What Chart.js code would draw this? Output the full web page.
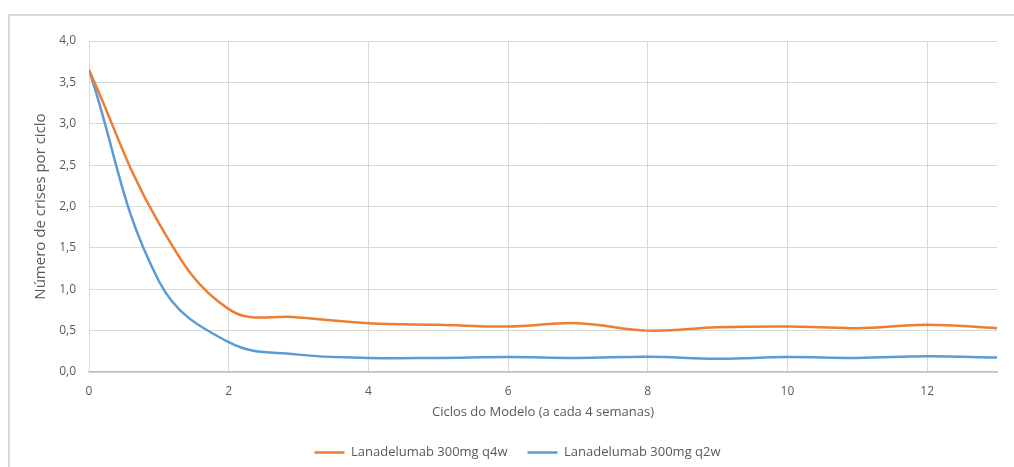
<!DOCTYPE html>
<html>
<head>
<meta charset="utf-8">
<script src="https://cdn.jsdelivr.net/npm/chart.js@4.4.1/dist/chart.umd.min.js"></script>
<style>
body { margin: 0; background: #fff; }
#frame { position: absolute; left: 8px; top: 14px; width: 1100px; height: 500px; border: 2px solid #d9d9d9; }
#wrap { position: absolute; left: 0; top: 0; width: 1014px; height: 467px; }
</style>
</head>
<body>
<div id="frame"></div>
<div id="wrap"><canvas id="chart"></canvas></div>
<script>
// ciclos do modelo (a cada 4 semanas)
var cycles = [0, 1, 2, 3, 4, 5, 6, 7, 8, 9, 10, 11, 12, 13];
// numero de crises por ciclo
var q4w = [3.65, 1.80, 0.76, 0.66, 0.59, 0.57, 0.55, 0.59, 0.50, 0.54, 0.55, 0.53, 0.57, 0.53];
var q2w = [3.65, 1.10, 0.36, 0.21, 0.17, 0.17, 0.18, 0.17, 0.185, 0.16, 0.18, 0.17, 0.19, 0.175];
var seriesNames = ["Lanadelumab 300mg q4w", "Lanadelumab 300mg q2w"];

var FONT = "'Open Sans', sans-serif";
var GREY = '#595959';

function pts(vals) {
    return cycles.map(function (c, i) { return { x: c, y: vals[i] }; });
}

var ctx = document.getElementById('chart').getContext('2d');
var chart = new Chart(ctx, {
    type: 'line',
    data: {
        datasets: [{
            label: seriesNames[0],
            data: pts(q4w),
            borderColor: '#ED7D31',
            backgroundColor: '#ED7D31',
            borderWidth: 2.5,
            pointRadius: 0,
            tension: 0.4
        }, {
            label: seriesNames[1],
            data: pts(q2w),
            borderColor: '#5B9BD5',
            backgroundColor: '#5B9BD5',
            borderWidth: 2.5,
            pointRadius: 0,
            tension: 0.4
        }]
    },
    options: {
        responsive: true,
        maintainAspectRatio: false,
        animation: false,
        layout: { padding: { top: 41, right: 17, bottom: -2, left: 38 } },
        plugins: {
            tooltip: { enabled: false },
            legend: {
                position: 'bottom',
                labels: {
                    usePointStyle: true,
                    pointStyle: 'line',
                    pointStyleWidth: 30,
                    padding: 20,
                    color: GREY,
                    font: { family: FONT, size: 13 }
                }
            }
        },
        scales: {
            x: {
                type: 'linear',
                min: 0,
                max: 13,
                ticks: {
                    stepSize: 2,
                    includeBounds: false,
                    padding: 12,
                    color: GREY,
                    font: { family: FONT, size: 12 }
                },
                grid: { color: '#d9d9d9', drawTicks: false },
                border: { color: '#bfbfbf', width: 1.5 },
                title: {
                    display: true,
                    text: 'Ciclos do Modelo (a cada 4 semanas)',
                    color: GREY,
                    font: { family: FONT, size: 13 },
                    padding: { top: 0, bottom: 6 }
                },
                afterFit: function (scale) { scale.height = 54; }
            },
            y: {
                min: 0,
                max: 4,
                ticks: {
                    stepSize: 0.5,
                    padding: 13,
                    color: GREY,
                    font: { family: FONT, size: 12 },
                    callback: function (v) { return v.toFixed(1).replace('.', ','); }
                },
                grid: { color: '#d9d9d9', drawTicks: false },
                border: { color: '#d9d9d9' },
                title: {
                    display: true,
                    text: 'Número de crises por ciclo',
                    color: GREY,
                    font: { family: FONT, size: 15 },
                    padding: { top: -6, bottom: 0 }
                },
                afterFit: function (scale) { scale.width = 51; }
            }
        }
    }
});
</script>
</body>
</html>
